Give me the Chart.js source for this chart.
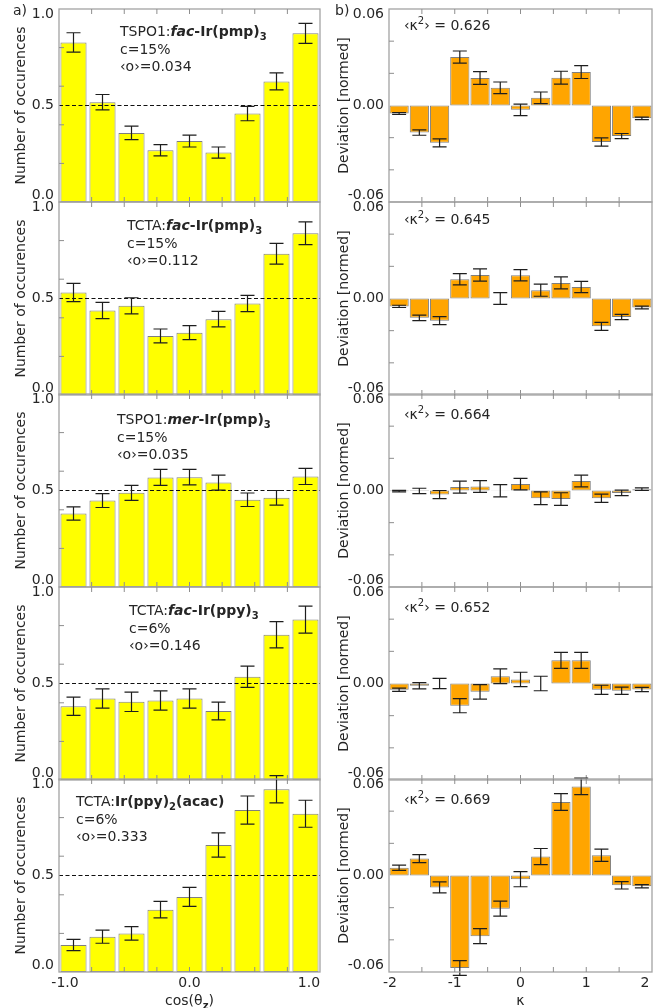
<!DOCTYPE html>
<html>
<head>
<meta charset="utf-8">
<script src="https://cdn.jsdelivr.net/npm/chart.js@4.4.0/dist/chart.umd.min.js"></script>
<style>
  body { margin: 0; background: #fff; }
  #fig { position: relative; width: 662px; height: 1008px; overflow: hidden; background: #fff; }
  #fig canvas { position: absolute; }
</style>
</head>
<body>
<div id="fig"></div>
<script>
// ---- data -------------------------------------------------------------

// bin centres
var cosBins = ['-0.889', '-0.667', '-0.444', '-0.222', '0.000', '0.222', '0.444', '0.667', '0.889'];
var kappaBins = ['-1.846', '-1.538', '-1.231', '-0.923', '-0.615', '-0.308', '0.000',
                 '0.308', '0.615', '0.923', '1.231', '1.538', '1.846'];

// axis ticks
var occTicks = [0.2, 0.4, 0.6, 0.8];
var occLabels = [0, 0.5, 1];
var occLabelText = ['0.0', '0.5', '1.0'];
var devTicks = [-0.04, -0.02, 0.02, 0.04];
var devLabels = [-0.06, 0, 0.06];
var devLabelText = ['-0.06', '0.00', '0.06'];
var cosTicks = [-0.75, -0.5, -0.25, 0, 0.25, 0.5, 0.75];
var cosLabels = [-1, 0, 1];
var cosLabelText = ['-1.0', '0.0', '1.0'];
var kappaTicks = [-1.5, -1, -0.5, 0, 0.5, 1, 1.5];
var kappaLabels = [-2, -1, 0, 1, 2];
var kappaLabelText = ['-2', '-1', '0', '1', '2'];

// a) number of occurences vs cos(theta_z)
var occTSPO1fac    = [0.827, 0.517, 0.358, 0.268, 0.316, 0.256, 0.458, 0.625, 0.874];
var occTSPO1facErr = [0.050, 0.040, 0.035, 0.029, 0.031, 0.029, 0.037, 0.044, 0.052];
var occTCTAfac     = [0.531, 0.438, 0.462, 0.306, 0.323, 0.393, 0.474, 0.732, 0.838];
var occTCTAfacErr  = [0.047, 0.042, 0.042, 0.036, 0.036, 0.040, 0.042, 0.054, 0.059];
var occTSPO1mer    = [0.381, 0.448, 0.488, 0.568, 0.569, 0.541, 0.452, 0.462, 0.573];
var occTSPO1merErr = [0.034, 0.036, 0.039, 0.041, 0.040, 0.039, 0.035, 0.038, 0.042];
var occTCTAppy     = [0.382, 0.422, 0.405, 0.412, 0.422, 0.358, 0.535, 0.753, 0.831];
var occTCTAppyErr  = [0.047, 0.050, 0.050, 0.050, 0.050, 0.046, 0.055, 0.068, 0.070];
var occTCTAacac    = [0.140, 0.183, 0.200, 0.323, 0.389, 0.658, 0.839, 0.947, 0.820];
var occTCTAacacErr = [0.029, 0.034, 0.035, 0.043, 0.049, 0.063, 0.073, 0.071, 0.070];

// b) deviation from isotropic kappa distribution
var devTSPO1fac    = [-0.0050, -0.0168, -0.0232, 0.0301, 0.0171, 0.0110, -0.0027, 0.0048, 0.0173, 0.0208, -0.0227, -0.0190, -0.0080];
var devTSPO1facErr = [0.0006, 0.0017, 0.0025, 0.0038, 0.0040, 0.0036, 0.0036, 0.0036, 0.0040, 0.0040, 0.0026, 0.0016, 0.0008];
var devTCTAfac     = [-0.0049, -0.0120, -0.0138, 0.0120, 0.0146, 0.0000, 0.0144, 0.0052, 0.0097, 0.0072, -0.0173, -0.0115, -0.0056];
var devTCTAfacErr  = [0.0007, 0.0017, 0.0025, 0.0035, 0.0038, 0.0037, 0.0035, 0.0038, 0.0037, 0.0035, 0.0025, 0.0016, 0.0008];
var devTSPO1mer    = [-0.0004, -0.0003, -0.0025, 0.0021, 0.0025, -0.0002, 0.0040, -0.0048, -0.0053, 0.0059, -0.0048, -0.0015, 0.0008];
var devTSPO1merErr = [0.0005, 0.0017, 0.0025, 0.0037, 0.0037, 0.0038, 0.0036, 0.0040, 0.0039, 0.0037, 0.0026, 0.0017, 0.0008];
var devTCTAppy     = [-0.0039, -0.0014, 0.0000, -0.0138, -0.0052, 0.0045, 0.0025, 0.0000, 0.0144, 0.0144, -0.0039, -0.0045, -0.0037];
var devTCTAppyErr  = [0.0010, 0.0020, 0.0032, 0.0044, 0.0045, 0.0046, 0.0045, 0.0045, 0.0050, 0.0050, 0.0028, 0.0023, 0.0013];
var devTCTAacac    = [0.0048, 0.0105, -0.0074, -0.0575, -0.0377, -0.0206, -0.0023, 0.0118, 0.0457, 0.0554, 0.0126, -0.0061, -0.0067];
var devTCTAacacErr = [0.0016, 0.0025, 0.0034, 0.0046, 0.0047, 0.0047, 0.0047, 0.0050, 0.0052, 0.0051, 0.0038, 0.0023, 0.0010];

// ---- layout -----------------------------------------------------------

var FONT = '"DejaVu Sans", "Liberation Sans", sans-serif';
var TXT = '#262626';
var rowTops = [9, 202, 394, 587, 779];
var plotH = 193;

Chart.defaults.font.family = FONT;

// draws a line of mixed-style text; returns its width
function richText(ctx, x, y, segs, measureOnly) {
  var w = 0;
  segs.forEach(function (s) {
    var st = s[1] || '';
    var size = 14, dy = 0;
    if (st.indexOf('sub') >= 0) { size = 10; dy = 4; }
    if (st.indexOf('sup') >= 0) { size = 10; dy = -6; }
    ctx.font = (st.indexOf('i') >= 0 ? 'italic ' : '') +
               (st.indexOf('b') >= 0 ? 'bold ' : '') + size + 'px ' + FONT;
    if (!measureOnly) ctx.fillText(s[0], x + w, y + dy);
    w += ctx.measureText(s[0]).width;
  });
  return w;
}

// error bars, reference line, frame, ticks and all text of one panel
var panelDecor = {
  id: 'panelDecor',
  afterDatasetsDraw: function (chart, args, o) {
    var ctx = chart.ctx, a = chart.chartArea;
    var ys = chart.scales.y, xs = chart.scales.xv;
    ctx.save();

    if (o.refLine != null) {
      var yr = ys.getPixelForValue(o.refLine);
      ctx.setLineDash([4, 2.5]);
      ctx.strokeStyle = '#111';
      ctx.lineWidth = 1.1;
      ctx.beginPath();
      ctx.moveTo(a.left, yr);
      ctx.lineTo(a.right, yr);
      ctx.stroke();
      ctx.setLineDash([]);
    }

    var vals = chart.data.datasets[0].data;
    ctx.strokeStyle = '#1e1e1e';
    ctx.lineWidth = 1.2;
    chart.getDatasetMeta(0).data.forEach(function (bar, i) {
      var lo = ys.getPixelForValue(vals[i] - o.errors[i]);
      var hi = ys.getPixelForValue(vals[i] + o.errors[i]);
      ctx.beginPath();
      ctx.moveTo(bar.x, lo); ctx.lineTo(bar.x, hi);
      ctx.moveTo(bar.x - 7, lo); ctx.lineTo(bar.x + 7, lo);
      ctx.moveTo(bar.x - 7, hi); ctx.lineTo(bar.x + 7, hi);
      ctx.stroke();
    });

    ctx.strokeStyle = '#a3a3a3';
    ctx.lineWidth = 1.3;
    ctx.strokeRect(a.left, a.top, a.width, a.height);

    ctx.strokeStyle = '#8e8e8e';
    ctx.lineWidth = 1;
    ctx.beginPath();
    o.yTicks.forEach(function (v) {
      var p = ys.getPixelForValue(v);
      ctx.moveTo(a.left, p); ctx.lineTo(a.left + 5, p);
    });
    o.xTicks.forEach(function (v) {
      var p = xs.getPixelForValue(v);
      ctx.moveTo(p, a.bottom); ctx.lineTo(p, a.bottom - 5);
      ctx.moveTo(p, a.top); ctx.lineTo(p, a.top + 5);
    });
    ctx.stroke();

    ctx.fillStyle = TXT;
    ctx.font = '14px ' + FONT;
    ctx.textAlign = 'right';
    ctx.textBaseline = 'middle';
    var last = o.yLabels.length - 1;
    o.yLabels.forEach(function (v, i) {
      var p = ys.getPixelForValue(v);
      if (i === 0) p -= 7;
      if (i === last) p += 5;
      ctx.fillText(o.yText[i], a.left - 5, p);
    });

    if (o.xLabels) {
      ctx.textAlign = 'center';
      var lastX = o.xLabels.length - 1;
      o.xLabels.forEach(function (v, i) {
        var p = xs.getPixelForValue(v);
        if (i === 0) p += o.xEdge[0];
        if (i === lastX) p += o.xEdge[1];
        ctx.fillText(o.xText[i], p, a.bottom + 11);
      });
      ctx.textAlign = 'left';
      ctx.textBaseline = 'alphabetic';
      var tw = richText(ctx, 0, 0, o.xTitle, true);
      richText(ctx, (a.left + a.right) / 2 - tw / 2, a.bottom + 33, o.xTitle);
    }

    // y axis title
    ctx.save();
    ctx.translate(o.yTitleX, (a.top + a.bottom) / 2);
    ctx.rotate(-Math.PI / 2);
    ctx.font = '14px ' + FONT;
    ctx.textAlign = 'center';
    ctx.textBaseline = 'middle';
    ctx.fillText(o.yTitle, 0, 0);
    ctx.restore();

    // annotation block
    ctx.textAlign = 'left';
    ctx.textBaseline = 'alphabetic';
    o.note.forEach(function (line, k) {
      richText(ctx, a.left + o.noteX, a.top + o.noteY + 5 + k * 17.5, line);
    });

    if (o.tag) {
      ctx.font = '14px ' + FONT;
      ctx.textBaseline = 'middle';
      ctx.fillText(o.tag, o.tagX, 11);
    }
    ctx.restore();
  }
};

var fig = document.getElementById('fig');

function drawPanel(col, row, values, errors, note, noteX, noteY) {
  var left = col === 0 ? 0 : 330;
  var width = col === 0 ? 330 : 332;
  var top = rowTops[row] - 9;
  var height = plotH + 18, padBottom = 9;
  if (row === 4) { height = 1008 - top; padBottom = height - 9 - plotH; }

  var canvas = document.createElement('canvas');
  canvas.width = width; canvas.height = height;
  canvas.style.left = left + 'px'; canvas.style.top = top + 'px';
  canvas.style.width = width + 'px'; canvas.style.height = height + 'px';
  fig.appendChild(canvas);

  var occ = col === 0;
  var bottomRow = row === 4;

  return new Chart(canvas.getContext('2d'), {
    type: 'bar',
    data: {
      labels: occ ? cosBins : kappaBins,
      datasets: [{
        data: values,
        xAxisID: 'x',
        yAxisID: 'y',
        backgroundColor: occ ? '#ffff00' : '#ffa500',
        borderColor: 'rgba(0,0,0,0.5)',
        borderWidth: 1,
        borderSkipped: false,
        categoryPercentage: 1,
        barPercentage: occ ? 0.9 : 0.95
      }]
    },
    options: {
      responsive: false,
      animation: false,
      devicePixelRatio: 1,
      layout: { padding: { left: 59, right: 10, top: 9, bottom: padBottom } },
      scales: {
        x: { type: 'category', display: false, offset: true },
        // value axis for tick positions (no half-bin offset)
        xv: { type: 'linear', axis: 'x', display: false, offset: false,
              grid: { offset: false },
              min: occ ? -1 : -2, max: occ ? 1 : 2 },
        y: { display: false, min: occ ? 0 : -0.06, max: occ ? 1 : 0.06 }
      },
      plugins: {
        legend: { display: false },
        tooltip: { enabled: false },
        panelDecor: {
          errors: errors,
          refLine: occ ? 0.5 : null,
          yTicks: occ ? occTicks : devTicks,
          yLabels: occ ? occLabels : devLabels,
          yText: occ ? occLabelText : devLabelText,
          xTicks: occ ? cosTicks : kappaTicks,
          xLabels: bottomRow ? (occ ? cosLabels : kappaLabels) : null,
          xText: occ ? cosLabelText : kappaLabelText,
          xEdge: occ ? [6, -11] : [1, -7],
          xTitle: occ ? [['cos(θ', ''], ['z', 'sub'], [')', '']] : [['κ', '']],
          yTitle: occ ? 'Number of occurences' : 'Deviation [normed]',
          yTitleX: occ ? 21 : 14,
          note: note,
          noteX: noteX,
          noteY: noteY,
          tag: row === 0 ? (occ ? 'a)' : 'b)') : null,
          tagX: occ ? 13 : 5
        }
      }
    },
    plugins: [panelDecor]
  });
}

function kappaNote(v) {
  return [[['‹κ', ''], ['2', 'sup'], ['› = ' + v, '']]];
}

// a) column
drawPanel(0, 0, occTSPO1fac, occTSPO1facErr,
  [[['TSPO1:', ''], ['fac', 'bi'], ['-Ir(pmp)', 'b'], ['3', 'bsub']], [['c=15%', '']], [['‹o›=0.034', '']]], 61, 22);
drawPanel(0, 1, occTCTAfac, occTCTAfacErr,
  [[['TCTA:', ''], ['fac', 'bi'], ['-Ir(pmp)', 'b'], ['3', 'bsub']], [['c=15%', '']], [['‹o›=0.112', '']]], 68, 23);
drawPanel(0, 2, occTSPO1mer, occTSPO1merErr,
  [[['TSPO1:', ''], ['mer', 'bi'], ['-Ir(pmp)', 'b'], ['3', 'bsub']], [['c=15%', '']], [['‹o›=0.035', '']]], 58, 25);
drawPanel(0, 3, occTCTAppy, occTCTAppyErr,
  [[['TCTA:', ''], ['fac', 'bi'], ['-Ir(ppy)', 'b'], ['3', 'bsub']], [['c=6%', '']], [['‹o›=0.146', '']]], 70, 23);
drawPanel(0, 4, occTCTAacac, occTCTAacacErr,
  [[['TCTA:', ''], ['Ir(ppy)', 'b'], ['2', 'bsub'], ['(acac)', 'b']], [['c=6%', '']], [['‹o›=0.333', '']]], 17, 22);

// b) column
drawPanel(1, 0, devTSPO1fac, devTSPO1facErr, kappaNote('0.626'), 15, 16);
drawPanel(1, 1, devTCTAfac, devTCTAfacErr, kappaNote('0.645'), 15, 17);
drawPanel(1, 2, devTSPO1mer, devTSPO1merErr, kappaNote('0.664'), 15, 20);
drawPanel(1, 3, devTCTAppy, devTCTAppyErr, kappaNote('0.652'), 15, 20);
drawPanel(1, 4, devTCTAacac, devTCTAacacErr, kappaNote('0.669'), 15, 20);
</script>
</body>
</html>
